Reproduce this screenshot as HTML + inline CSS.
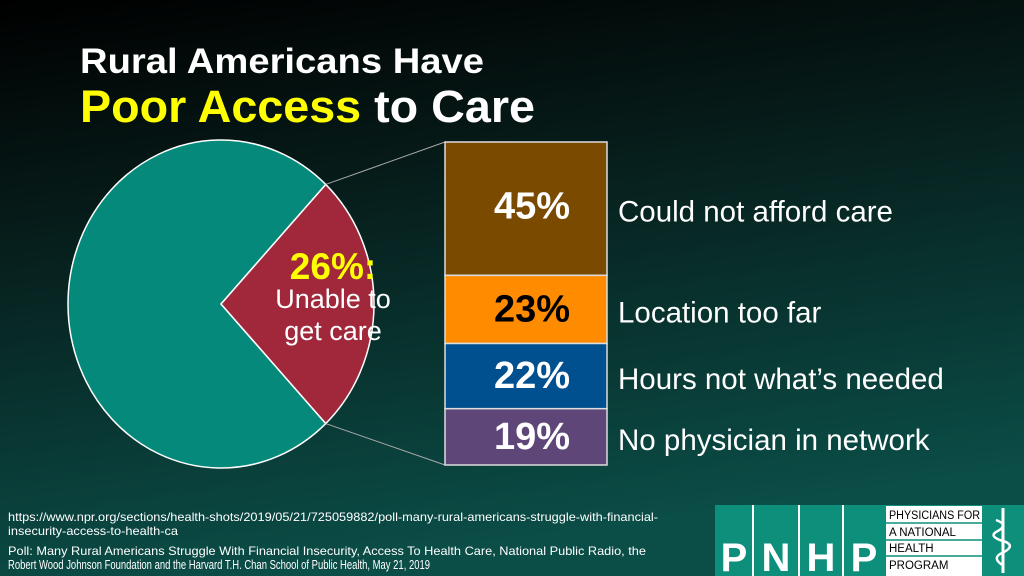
<!DOCTYPE html>
<html><head><meta charset="utf-8"><style>
html,body{margin:0;padding:0;width:1024px;height:576px;overflow:hidden;background:#000}
svg{display:block;font-family:"Liberation Sans",sans-serif}
</style></head><body>
<svg id="chart" width="1024" height="576" viewBox="0 0 1024 576">
<defs>
<linearGradient id="bg" x1="0" y1="0" x2="0.25" y2="1">
<stop offset="0" stop-color="#000000"/><stop offset="0.35" stop-color="#061a18"/><stop offset="1" stop-color="#0b4d47"/>
</linearGradient>
</defs>
<rect width="1024" height="576" fill="url(#bg)"/>
<text x="80" y="73" fill="#fff" font-size="35" font-weight="bold" textLength="404" lengthAdjust="spacingAndGlyphs">Rural Americans Have</text>
<text x="80" y="122" font-size="45" font-weight="bold" textLength="455" lengthAdjust="spacingAndGlyphs"><tspan fill="#ffff00">Poor Access</tspan><tspan fill="#fff"> to Care</tspan></text>
<g id="pie"></g>
<g id="bars"></g>
<text x="8" y="521" fill="#fff" font-size="12" textLength="650" lengthAdjust="spacingAndGlyphs">https://www.npr.org/sections/health-shots/2019/05/21/725059882/poll-many-rural-americans-struggle-with-financial-</text>
<text x="8" y="535" fill="#fff" font-size="12" textLength="170" lengthAdjust="spacingAndGlyphs">insecurity-access-to-health-ca</text>
<text x="8" y="555" fill="#fff" font-size="12" textLength="638" lengthAdjust="spacingAndGlyphs">Poll: Many Rural Americans Struggle With Financial Insecurity, Access To Health Care, National Public Radio, the</text>
<text x="8" y="569" fill="#fff" font-size="12.5" textLength="422" lengthAdjust="spacingAndGlyphs">Robert Wood Johnson Foundation and the Harvard T.H. Chan School of Public Health, May 21, 2019</text>
<g>
<rect x="715" y="505" width="309" height="71" fill="#0d8f7c"/>
<line x1="753" y1="505" x2="753" y2="576" stroke="#fff" stroke-width="2"/>
<line x1="799" y1="505" x2="799" y2="576" stroke="#fff" stroke-width="2"/>
<line x1="843" y1="505" x2="843" y2="576" stroke="#fff" stroke-width="2"/>
<g fill="#fff" font-size="40" font-weight="bold" text-anchor="middle">
<text x="734" y="571">P</text><text x="776" y="571">N</text><text x="821" y="571">H</text><text x="864" y="571">P</text>
</g>
<rect x="886" y="506" width="96" height="70" fill="#fff"/>
<g fill="#000" font-size="11.5">
<text x="889" y="519" textLength="91" lengthAdjust="spacingAndGlyphs">PHYSICIANS FOR</text>
<text x="889" y="536">A NATIONAL</text>
<text x="889" y="552">HEALTH</text>
<text x="889" y="569">PROGRAM</text>
</g>
<g stroke="#0d8f7c" stroke-width="1.5">
<line x1="886" y1="523" x2="982" y2="523"/><line x1="886" y1="540" x2="982" y2="540"/><line x1="886" y1="556" x2="982" y2="556"/>
</g>
<line x1="1003" y1="508" x2="1003" y2="573" stroke="#fff" stroke-width="3"/>
<path d="M996 520 q14 5 0 12 q-8 5 10 10 q10 5 -6 12 q-8 5 4 12" fill="none" stroke="#fff" stroke-width="2.5"/>
</g>
</svg>
<script>
const pieCategories = ["Unable to get care", "Other"];
const pieValues = [26, 74];
const barCategories = ["Could not afford care", "Location too far", "Hours not what’s needed", "No physician in network"];
const barValues = [45, 23, 22, 19];
const barLabels = ["45%", "23%", "22%", "19%"];

const NS = "http://www.w3.org/2000/svg";
function mk(tag, attrs, parent){const e=document.createElementNS(NS,tag);for(const k in attrs)e.setAttribute(k,attrs[k]);parent.appendChild(e);return e;}
const cx=221, cy=304, rx=153, ry=164;
function pt(a){return [cx+rx*Math.cos(a), cy-ry*Math.sin(a)];}
const pie=document.getElementById('pie');
const total=pieValues.reduce((a,b)=>a+b,0);
const half=pieValues[0]/total*Math.PI;
const p1=pt(half), p2=pt(-half);
const other=mk('path',{d:`M${cx},${cy} L${p1[0]},${p1[1]} A${rx},${ry} 0 1,0 ${p2[0]},${p2[1]} Z`,fill:'#04897a',stroke:'#fff','stroke-width':1.5},pie);


const red=mk('path',{d:`M${cx},${cy} L${p1[0]},${p1[1]} A${rx},${ry} 0 0,1 ${p2[0]},${p2[1]} Z`,fill:'#a0283a',stroke:'#fff','stroke-width':1.5},pie);


const t1=mk('text',{x:333,y:279,fill:'#ffff00','font-size':37,'font-weight':'bold','text-anchor':'middle'},pie);t1.textContent=pieValues[0]+"%:";


const t2=mk('text',{x:333,y:308,fill:'#fff','font-size':27,'text-anchor':'middle'},pie);t2.textContent="Unable to";


const t3=mk('text',{x:333,y:340,fill:'#fff','font-size':27,'text-anchor':'middle'},pie);t3.textContent="get care";



const bars=document.getElementById('bars');
const bx=445,bw=162,btop=142,bbot=465;
const bsum=barValues.reduce((a,b)=>a+b,0);
const sc=(bbot-btop)/bsum;
const colors=['#7a4a00','#ff8c00','#004f8f','#5e4679'];
const tcol=['#fff','#000','#fff','#fff'];
const l1=mk('line',{x1:p1[0],y1:p1[1],x2:bx,y2:btop,stroke:'#aaa','stroke-width':1},bars);


const l2=mk('line',{x1:p2[0],y1:p2[1],x2:bx,y2:bbot,stroke:'#aaa','stroke-width':1},bars);


let y=btop;
barValues.forEach((v,i)=>{
  const h=v*sc;
  const r=mk('rect',{x:bx,y:y,width:bw,height:h,fill:colors[i],stroke:'#ddd','stroke-width':1.5},bars);
  
  
  const ty=(i===0)?y+h*0.5+12:y+h/2+12;
  const t=mk('text',{x:532,y:(i===0?ty-2:ty),fill:tcol[i],'font-size':38,'font-weight':'bold','text-anchor':'middle'},bars);
  t.textContent=barLabels[i];
  
  
  const c=mk('text',{x:618,y:ty+1,fill:'#fff','font-size':29.5},bars);
  c.textContent=barCategories[i];
  
  
  y+=h;
});
</script>
</body></html>
